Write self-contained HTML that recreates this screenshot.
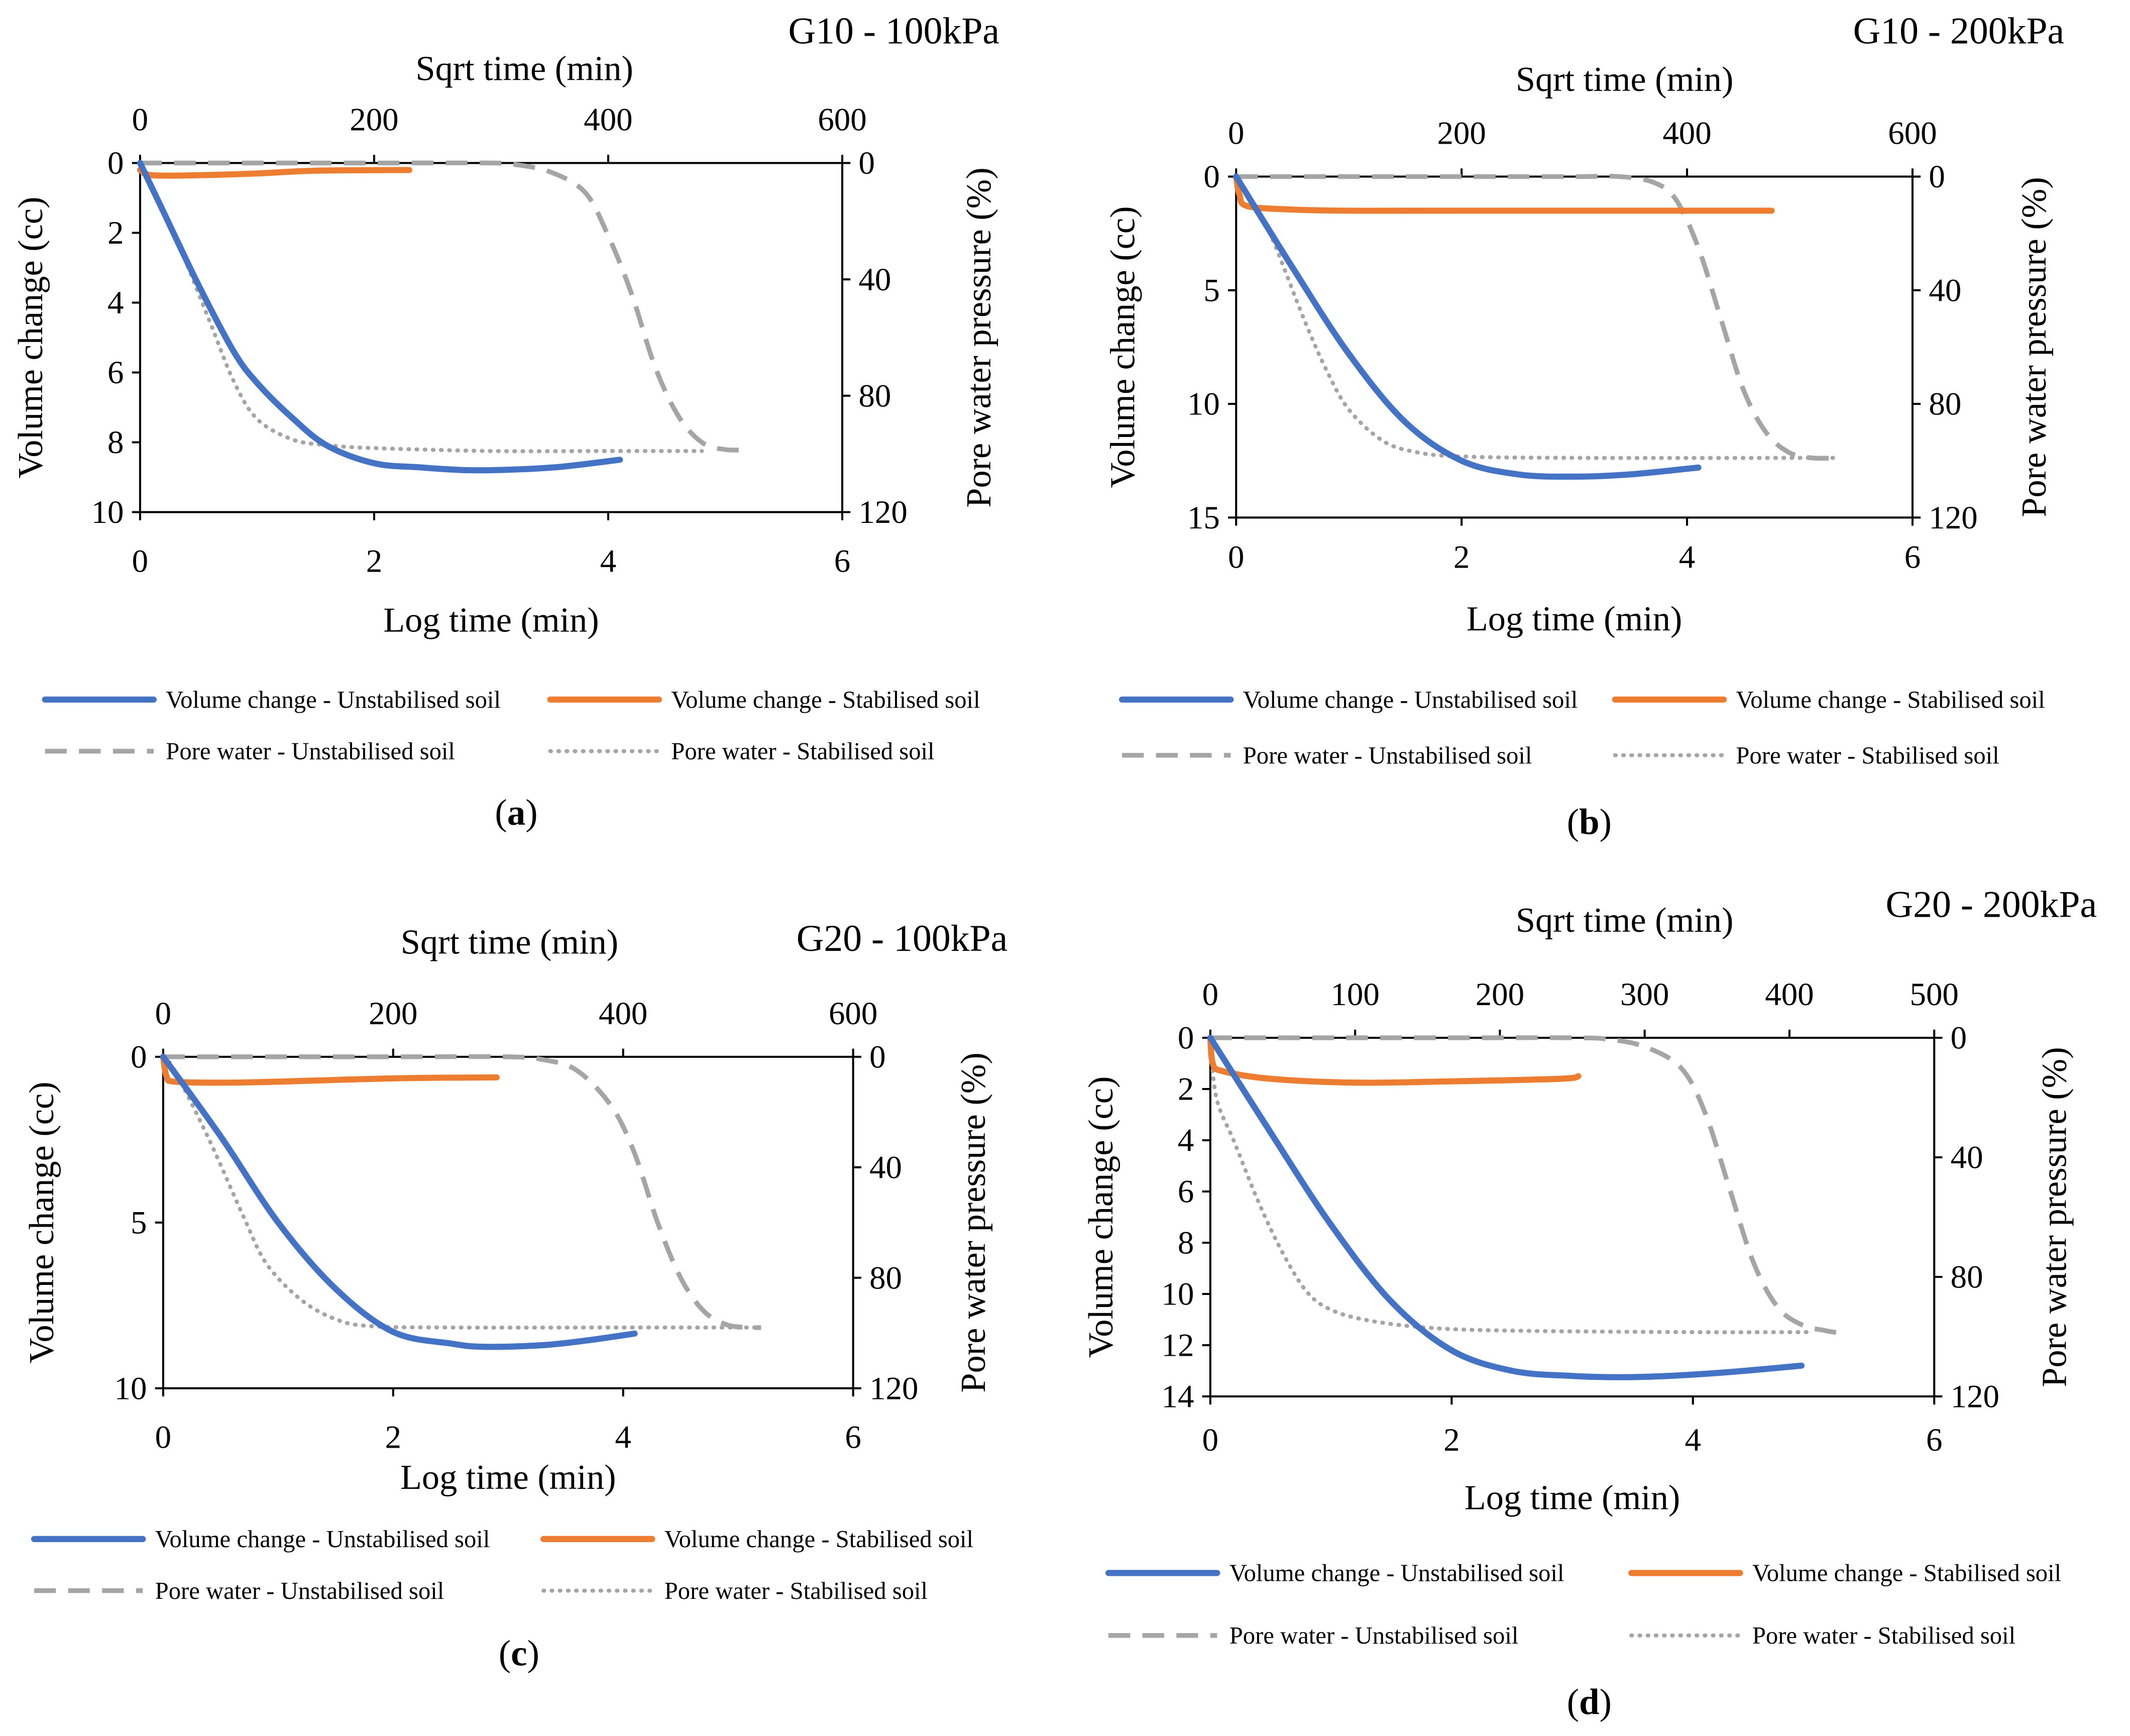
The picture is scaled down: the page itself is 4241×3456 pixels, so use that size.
<!DOCTYPE html>
<html><head><meta charset="utf-8">
<style>
html,body{margin:0;padding:0;background:#fff;}
svg{display:block;}
text{font-family:"Liberation Serif",serif;fill:#000;}
</style></head>
<body>
<svg id="fig" xmlns="http://www.w3.org/2000/svg" width="4241" height="3456" viewBox="0 0 1568 1278">
<rect x="0" y="0" width="1568" height="1278" fill="#fff"/>
</svg>
<script>
// ---------- data (log time in min, volume change in cc, pore water pressure in %) ----------
const logTicks = [0, 2, 4, 6];
const poreTicks = [0, 40, 80, 120];
const legendLabels = ["Volume change - Unstabilised soil","Volume change - Stabilised soil","Pore water - Unstabilised soil","Pore water - Stabilised soil"];
const panelTitles = ["G10 - 100kPa","G10 - 200kPa","G20 - 100kPa","G20 - 200kPa"];
const panelLetters = ["a","b","c","d"];
const volTicksA = [0,2,4,6,8,10];
const volTicksB = [0,5,10,15];
const volTicksC = [0,5,10];
const volTicksD = [0,2,4,6,8,10,12,14];
const sqrtTicksA = [0,200,400,600];
const sqrtTicksB = [0,200,400,600];
const sqrtTicksC = [0,200,400,600];
const sqrtTicksD = [0,100,200,300,400,500];

// panel a
const aBlueX=[0,0.2,0.5,0.8,1,1.3,1.6,2,2.4,2.8,3.2,3.6,4.1];
const aBlueY=[0,1.4,3.5,5.4,6.3,7.3,8.1,8.6,8.72,8.8,8.78,8.7,8.5];
const aOrgX=[0,0.1,0.5,1,1.5,2.3];
const aOrgY=[0.2,0.35,0.35,0.3,0.22,0.2];
const aDashX=[0,1,2,3,3.2,3.5,3.8,4,4.2,4.4,4.6,4.8,5,5.2];
const aDashY=[0,0,0,0,0.5,3,10,25,45,70,87,96,98.5,98.5];
const aDotX=[0,0.1,0.3,0.6,0.8,1,1.3,1.6,2,3,4,4.8];
const aDotY=[0,8,25,55,75,88,95,97,98,99,99,99];
// panel b
const bBlueX=[0,0.5,1,1.5,2,2.5,3,3.5,4.1];
const bBlueY=[0,4,7.8,10.8,12.5,13.1,13.2,13.1,12.8];
const bOrgX=[0,0.03,0.1,0.5,1,2,4.75];
const bOrgY=[0,0.8,1.3,1.45,1.5,1.5,1.5];
const bDashX=[0,1,2,3,3.4,3.7,3.9,4.1,4.3,4.5,4.7,4.9,5.1,5.35];
const bDashY=[0,0,0,0,0,2,8,25,50,75,90,97,99,99];
const bDotX=[0,0.1,0.3,0.6,0.8,1,1.3,1.6,2,3,5.3];
const bDotY=[0,6,20,50,68,82,93,97,98.5,99,99];
// panel c
const cBlueX=[0,0.5,1,1.5,2,2.5,2.8,3.3,3.7,4.1];
const cBlueY=[0,2.4,5,7,8.3,8.65,8.75,8.7,8.55,8.35];
const cOrgX=[0,0.03,0.1,0.5,1,2,2.9];
const cOrgY=[0,0.6,0.75,0.78,0.75,0.65,0.62];
const cDashX=[0,1,2,3,3.3,3.6,3.9,4.1,4.3,4.5,4.7,4.9,5.1,5.2];
const cDashY=[0,0,0,0,1,5,18,35,60,80,92,97,98,98];
const cDotX=[0,0.1,0.4,0.7,0.9,1.2,1.5,1.8,2.5,4,5.2];
const cDotY=[0,5,30,58,75,88,95,97.5,98,98,98];
// panel d
const dBlueX=[0,0.5,1,1.5,2,2.5,3,3.4,3.8,4.3,4.9];
const dBlueY=[0,3.7,7.3,10.3,12.2,13,13.2,13.25,13.2,13.05,12.8];
const dOrgX=[0,0.02,0.1,0.5,1.2,2,2.9,3.05];
const dOrgY=[0,1,1.3,1.6,1.75,1.7,1.6,1.5];
const dDashX=[0,1,2,3,3.3,3.6,3.9,4.1,4.3,4.5,4.7,4.9,5.1,5.25];
const dDashY=[0,0,0,0,0.5,3,10,25,50,75,90,96,98,99];
const dDotX=[0,0.05,0.2,0.4,0.6,0.8,1,1.3,1.8,2.5,4,5];
const dDotY=[0,20,35,55,72,85,91,94.5,97,98,98.5,98.5];

// ---------- layout ----------
const panels = [
 {L:103,R:620,T:120,B:377,vt:volTicksA,st:sqrtTicksA,title:[658,22],sqrtT:[386,50],topLab:88,botLab:413,botT:456,leg:[515,553],legX:[33,405],letter:[380,598],yTitleX:22,rTitleX:720,
  blue:[aBlueX,aBlueY],org:[aOrgX,aOrgY],dash:[aDashX,aDashY],dot:[aDotX,aDotY]},
 {L:910,R:1408,T:130,B:381,vt:volTicksB,st:sqrtTicksB,title:[1442,22],sqrtT:[1196,58],topLab:98,botLab:410,botT:455,leg:[515,556],legX:[826,1189],letter:[1170,605],yTitleX:826,rTitleX:1497,
  blue:[bBlueX,bBlueY],org:[bOrgX,bOrgY],dash:[bDashX,bDashY],dot:[bDotX,bDotY]},
 {L:120,R:628,T:778,B:1022,vt:volTicksC,st:sqrtTicksC,title:[664,690],sqrtT:[375,693],topLab:746,botLab:1058,botT:1087,leg:[1133,1171],legX:[25,400],letter:[382,1217],yTitleX:30,rTitleX:716,
  blue:[cBlueX,cBlueY],org:[cOrgX,cOrgY],dash:[cDashX,cDashY],dot:[cDotX,cDotY]},
 {L:891,R:1424,T:764,B:1028,vt:volTicksD,st:sqrtTicksD,title:[1466,665],sqrtT:[1196,677],topLab:732,botLab:1060,botT:1102,leg:[1158,1204],legX:[816,1201],letter:[1170,1253],yTitleX:810,rTitleX:1512,
  blue:[dBlueX,dBlueY],org:[dOrgX,dOrgY],dash:[dDashX,dDashY],dot:[dDotX,dDotY]}
];

const NS="http://www.w3.org/2000/svg";
const svg=document.getElementById('fig');
function mk(tag,attrs,parent,txt){const e=document.createElementNS(NS,tag);for(const k in attrs)e.setAttribute(k,attrs[k]);if(txt!==undefined)e.textContent=txt;(parent||svg).appendChild(e);return e;}
function smooth(pts){
 let d='M'+pts[0][0].toFixed(2)+','+pts[0][1].toFixed(2);
 for(let i=0;i<pts.length-1;i++){
  const p0=pts[Math.max(i-1,0)],p1=pts[i],p2=pts[i+1],p3=pts[Math.min(i+2,pts.length-1)];
  const c1=[p1[0]+(p2[0]-p0[0])/6,p1[1]+(p2[1]-p0[1])/6];
  const c2=[p2[0]-(p3[0]-p1[0])/6,p2[1]-(p3[1]-p1[1])/6];
  d+=' C'+c1[0].toFixed(2)+','+c1[1].toFixed(2)+' '+c2[0].toFixed(2)+','+c2[1].toFixed(2)+' '+p2[0].toFixed(2)+','+p2[1].toFixed(2);
 }
 return d;
}

const styles={
 blue:{stroke:'#4472C4','stroke-width':4.5,fill:'none','stroke-linejoin':'round','stroke-linecap':'round'},
 org:{stroke:'#ED7D31','stroke-width':4.5,fill:'none','stroke-linejoin':'round','stroke-linecap':'round'},
 dash:{stroke:'#A5A5A5','stroke-width':3.5,fill:'none','stroke-dasharray':'16 9'},
 dot:{stroke:'#A5A5A5','stroke-width':3,fill:'none','stroke-dasharray':'0.5 5.5','stroke-linecap':'round'}
};

panels.forEach((p,i)=>{
 const g=mk('g',{});
 
 
 const vmax=p.vt[p.vt.length-1], smax=p.st[p.st.length-1];
 const xs=v=>p.L+(v/6)*(p.R-p.L);
 const xq=v=>p.L+(v/smax)*(p.R-p.L);
 const yv=v=>p.T+(v/vmax)*(p.B-p.T);
 const yp=v=>p.T+(v/120)*(p.B-p.T);
 const fr=mk('rect',{x:p.L,y:p.T,width:p.R-p.L,height:p.B-p.T,fill:'none',stroke:'#000','stroke-width':1.5},g);
 
 
 logTicks.forEach(t=>{const x=xs(t);mk('line',{x1:x,y1:p.B,x2:x,y2:p.B+6,stroke:'#000','stroke-width':1.5},g);
  const tx=mk('text',{x:x,y:p.botLab+8,'font-size':24,'text-anchor':'middle'},g,t);
  });
 p.st.forEach(t=>{const x=xq(t);mk('line',{x1:x,y1:p.T,x2:x,y2:p.T-6,stroke:'#000','stroke-width':1.5},g);
  const tx=mk('text',{x:x,y:p.topLab+8,'font-size':24,'text-anchor':'middle'},g,t);
  });
 p.vt.forEach(t=>{const y=yv(t);mk('line',{x1:p.L,y1:y,x2:p.L-6,y2:y,stroke:'#000','stroke-width':1.5},g);
  const tx=mk('text',{x:p.L-12,y:y+8,'font-size':24,'text-anchor':'end'},g,t);
  });
 poreTicks.forEach(t=>{const y=yp(t);mk('line',{x1:p.R,y1:y,x2:p.R+6,y2:y,stroke:'#000','stroke-width':1.5},g);
  const tx=mk('text',{x:p.R+12,y:y+8,'font-size':24,'text-anchor':'start'},g,t);
  });
 let t=mk('text',{x:p.title[0],y:p.title[1]+10,'font-size':28,'text-anchor':'middle'},g,panelTitles[i]);
 
 t=mk('text',{x:p.sqrtT[0],y:p.sqrtT[1]+9,'font-size':26,'text-anchor':'middle'},g,'Sqrt time (min)');
 
 t=mk('text',{x:(p.L+p.R)/2,y:p.botT+9,'font-size':26,'text-anchor':'middle'},g,'Log time (min)');
 
 const cy=(p.T+p.B)/2;
 t=mk('text',{x:p.yTitleX,y:cy,'font-size':26,'text-anchor':'middle',transform:`rotate(-90 ${p.yTitleX} ${cy})`,dy:9},g,'Volume change (cc)');
 
 t=mk('text',{x:p.rTitleX,y:cy,'font-size':26,'text-anchor':'middle',transform:`rotate(-90 ${p.rTitleX} ${cy})`,dy:9},g,'Pore water pressure (%)');
 
 const series=[['dash',p.dash,yp],['dot',p.dot,yp],['org',p.org,yv],['blue',p.blue,yv]];
 const names={blue:'volume-unstabilised-line',org:'volume-stabilised-line',dash:'pore-unstabilised-line',dot:'pore-stabilised-line'};
 series.forEach(([k,d,yf])=>{
  const pts=d[0].map((x,j)=>[xs(x),yf(d[1][j])]);
  const pl=mk('path',Object.assign({d:smooth(pts)},styles[k]),g);
  
  
 });
 const order=['blue','org','dash','dot'];
 order.forEach((k,j)=>{
  const x0=p.legX[j%2], y0=p.leg[Math.floor(j/2)];
  const lg=mk('g',{},g);
  
  
  mk('line',Object.assign({x1:x0,y1:y0,x2:x0+80,y2:y0},styles[k]),lg);
  mk('text',{x:x0+89,y:y0+6,'font-size':18},lg,legendLabels[j]);
 });
 const lt=mk('text',{x:p.letter[0],y:p.letter[1]+9,'font-size':27,'text-anchor':'middle'},g);
 
 mk('tspan',{},lt,'(');mk('tspan',{'font-weight':'bold'},lt,panelLetters[i]);mk('tspan',{},lt,')');
});
</script>
</body></html>
